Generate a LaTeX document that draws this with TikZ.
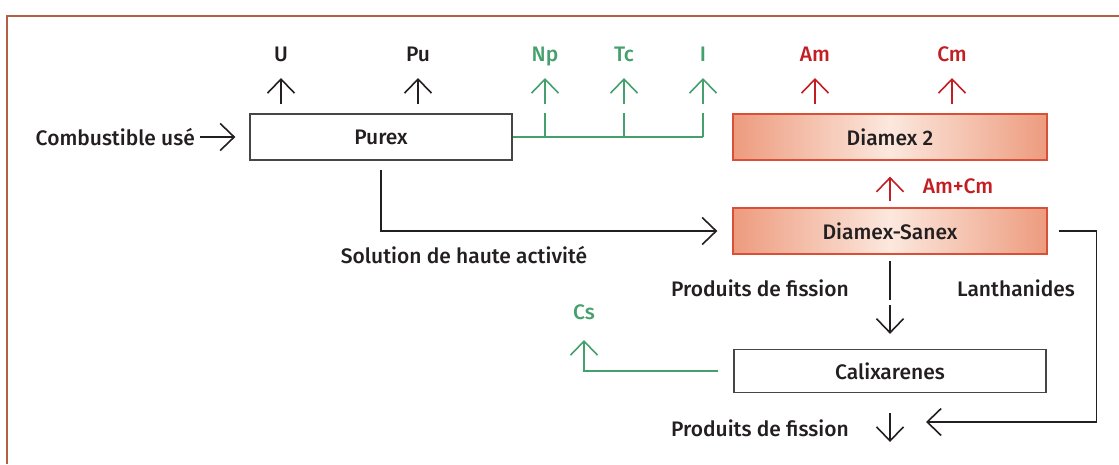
\documentclass[tikz,border=0pt]{standalone}
\usepackage{fontspec}
\setmainfont{Fira Sans Medium}
\usetikzlibrary{arrows.meta}
\definecolor{encre}{RGB}{35,31,32}
\definecolor{cadre}{RGB}{180,95,65}
\definecolor{gris}{RGB}{70,70,70}
\definecolor{vert}{RGB}{70,160,110}
\definecolor{rouge}{RGB}{195,30,35}
\definecolor{rougecadre}{RGB}{215,80,55}
\definecolor{saumon}{RGB}{237,155,126}
\definecolor{saumonclair}{RGB}{252,232,222}

\begin{document}
\begin{tikzpicture}[x=1pt,y=-1pt,color=encre,
  font=\fontsize{21}{25}\selectfont,
  boite/.style={draw=gris,line width=1.3pt,minimum height=46pt,inner sep=0pt},
  boiterouge/.style={boite,draw=rougecadre,left color=saumon,right color=saumon,middle color=saumonclair},
  fl/.style={line width=1.6pt,-{Straight Barb[length=14pt,width=27pt]}},
  etiq/.style={anchor=south,inner sep=0pt,text height=14pt,text depth=0pt}]
  \useasboundingbox (0,0) rectangle (1119,464);
  \draw[cadre,line width=1.5pt] (1119,16) -- (7,16) -- (7,464);

  \node[boite,minimum width=262pt] (purex) at (381,137) {Purex};
  \node[boiterouge,minimum width=314pt] (diamexdeux) at (890,137) {Diamex 2};
  \node[boiterouge,minimum width=314pt] (sanex) at (890,231) {Diamex-Sanex};
  \node[boite,minimum width=312pt,minimum height=43pt] (calix) at (890,371) {Calixarenes};

  \node[anchor=east,inner sep=0pt] (combu) at (195,137) {Combustible usé};
  \draw[fl,shorten <=5pt,shorten >=14pt] (combu) -- (purex);

  \foreach \x/\t/\n in {281/U/lu,418/Pu/lpu}{
    \node[etiq] (\n) at (\x,62) {\t};
    \draw[fl,shorten <=9pt,shorten >=16pt] (\n.south |- purex.north) -- (\n.south);
  }
  \foreach \x/\t/\n in {545/Np/lnp,624/Tc/ltc,703/I/li}{
    \node[etiq,vert] (\n) at (\x,62) {\t};
    \draw[fl,vert,shorten <=9pt,shorten >=16pt] (\n.south |- purex.north) -- (\n.south);
    \draw[vert,line width=1.3pt] (\n.south |- purex.east) -- (\n.south |- purex.north);
  }
  \draw[vert,line width=1.3pt] (purex.east) -- (li.south |- purex.east);
  \foreach \x/\t/\n in {815/Am/lam,952/Cm/lcm}{
    \node[etiq,rouge] (\n) at (\x,62) {\t};
    \draw[fl,rouge,shorten <=9pt,shorten >=16pt] (\n.south |- diamexdeux.north) -- (\n.south);
  }

  \draw[fl,rouge,shorten <=6pt,shorten >=16pt] (sanex.north) -- (diamexdeux.south);
  \node[rouge] (amcm) at (958,186) {Am+Cm};

  \draw[fl,shorten <=9pt,shorten >=15pt] (purex.south) |- (sanex.west);
  \node (solution) at (464,255) {Solution de haute activité};

  \coordinate (lanth) at (926,422);
  \draw[fl,shorten <=11pt] (sanex.east) -- ++(49,0) |- (lanth);
  \node (lanthanides) at (1016,288) {Lanthanides};

  \node (pfun) at (760,288) {Produits de fission};
  \coordinate (coude) at (890,300);
  \draw[line width=1.3pt,shorten <=6pt] (sanex.south) -- (coude);
  \draw[fl,shorten <=5pt,shorten >=15pt] (coude) -- (calix.north);
  \coordinate (sortie) at (890,442);
  \draw[fl,shorten <=20pt] (calix.south) -- (sortie);
  \node (pfdeux) at (760,428) {Produits de fission};

  \node[etiq,vert] (cs) at (584,320) {Cs};
  \draw[fl,vert,shorten <=15pt,shorten >=20pt] (calix.west) -| (cs.south);
\end{tikzpicture}
\end{document}
